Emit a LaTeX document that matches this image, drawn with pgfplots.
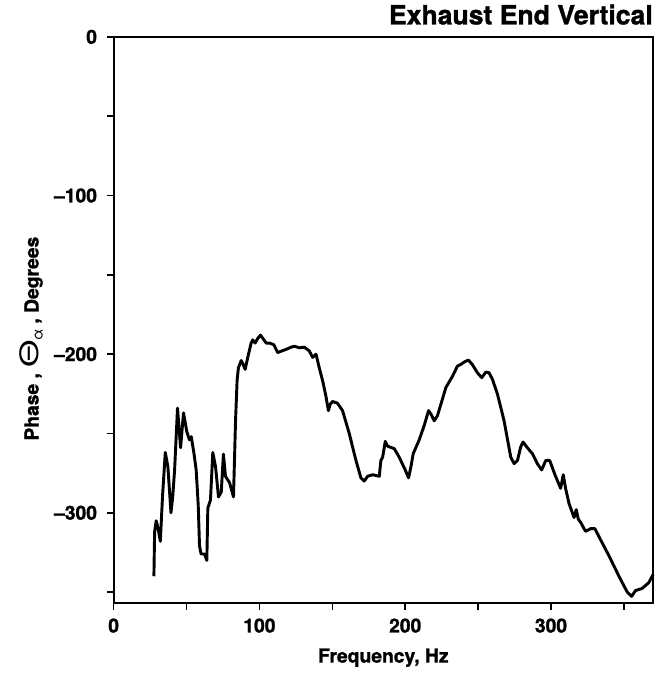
\documentclass[border=0pt]{standalone}
\usepackage{fontspec}
\setmainfont{TeX Gyre Heros}[BoldFeatures={FakeBold=1.2}]
\usepackage{graphicx}
\usepackage{pgfplots}
\pgfplotsset{compat=1.18}
\usetikzlibrary{calc}
\begin{document}
\begin{tikzpicture}
\begin{axis}[
  scale only axis,
  width=405.75pt, height=426pt,
  xmin=0, xmax=370, ymin=-357, ymax=0,
  axis line style={line width=1.3pt},
  tick align=outside, tick pos=left,
  major tick length=5pt, minor tick length=5pt,
  every tick/.style={line width=1.2pt, black},
  xtick={0,100,200,300}, minor xtick={50,150,250,350},
  ytick={-300,-200,-100,0}, minor ytick={-350,-250,-150,-50},
  yticklabels={--300,--200,--100,0},
  xticklabels={0,100,200,300},
  ticklabel style={font=\fontsize{14.5}{17}\selectfont\bfseries},
  xticklabel style={yshift=-3pt},
  yticklabel style={xshift=-4pt},
  clip=false,
]
\addplot[black, line width=2.2pt, line join=round] coordinates {
(27.6,-340) (28.1,-312) (29.2,-305) (30.5,-310) (32,-318) (33.5,-290)
(35.4,-262) (37.2,-271) (39.3,-300) (40.5,-290) (41.8,-273) (43.8,-234)
(45.9,-259) (47.9,-237) (50.2,-249) (52,-254) (53.2,-252) (55,-262)
(56.6,-273) (58,-295) (58.9,-321) (60,-326) (62.3,-326) (63.9,-330)
(64.6,-297) (66.4,-292) (68,-262) (69.9,-271) (71.9,-290) (73.8,-287)
(75.3,-263) (76.7,-277) (79.5,-281) (82.2,-290) (83.6,-242) (84.7,-216)
(85.6,-208.5) (87.5,-204) (88.6,-206) (90.2,-209.6) (92,-202) (94.3,-193)
(95.4,-191) (97,-193) (98.9,-190) (100.7,-188) (102.3,-190) (104.6,-193)
(106.8,-193) (109.8,-194) (112.5,-199) (115.3,-198) (118.3,-197) (121.7,-195.6)
(124,-195) (127.4,-196) (130.8,-195.6) (134.2,-198) (136.5,-202) (138.8,-200)
(141,-208.5) (143.4,-217) (145.7,-227) (147.3,-235.6) (148.6,-231.5) (150.2,-229.8)
(153.6,-231) (157,-235.6) (161.6,-250) (166.2,-267) (169.6,-278) (171.9,-280)
(174.2,-277) (177.6,-276) (182.2,-277) (183.3,-267) (184.5,-265) (186.3,-255)
(187.9,-258) (192.5,-259.6) (195.9,-265) (200,-273) (202.3,-278) (203.9,-271)
(205.5,-262.7) (209.6,-254) (213,-245) (216,-235.6) (217.6,-237.7) (219.9,-242)
(222.1,-238.8) (227.9,-221) (232.4,-214) (235.8,-207.5) (238.1,-206.5) (240.4,-205)
(243.3,-203.7) (246,-206.5) (249.5,-211.7) (252.5,-214.8) (255.3,-211.3) (257.5,-211.7)
(259.8,-215.8) (263.2,-225) (267.8,-242) (272.4,-265) (274.7,-269) (277,-267)
(279.2,-258.5) (280.8,-255.4) (283.8,-259) (287.2,-262.7) (290.6,-269) (293.6,-273)
(296.4,-267) (299.1,-267) (302.7,-276) (306.6,-284.6) (308.4,-276) (310,-284.6)
(312.3,-294) (315.8,-303) (317.3,-298) (318.7,-304) (320.3,-306) (323.7,-311.7)
(327.2,-310) (330.1,-310) (334,-317) (339.7,-327) (346.6,-340) (352.3,-350)
(355.3,-352.7) (358,-349) (362.5,-347.7) (367.1,-344) (370,-339)
};
\coordinate (SW) at (rel axis cs:0,0);
\coordinate (NE) at (rel axis cs:1,1);
\coordinate (NW) at (rel axis cs:0,1);
\coordinate (SE) at (rel axis cs:1,0);
\end{axis}
\path ($(SW)+(-85.5pt,-52.5pt)$) rectangle ($(NE)+(9pt,27.75pt)$);
\node[anchor=south east, inner sep=0pt, font=\fontsize{20}{24}\selectfont\bfseries] at ($(NE)+(0,9pt)$) {Exhaust End Vertical};
\node[anchor=center, font=\fontsize{14.5}{17}\selectfont\bfseries] at ($(SW)!0.5!(SE)+(0,-41pt)$) {Frequency, Hz};
\node[anchor=center, rotate=90, font=\fontsize{14.5}{17}\selectfont\bfseries] at ($(SW)!0.5!(NW)+(-62pt,-14pt)$) {Phase , \scalebox{1.4}[1]{\fontsize{19}{19}\selectfont\mdseries Θ}\raisebox{-3pt}{\fontsize{11}{11}\selectfont\mdseries α} , Degrees};
\end{tikzpicture}
\end{document}
